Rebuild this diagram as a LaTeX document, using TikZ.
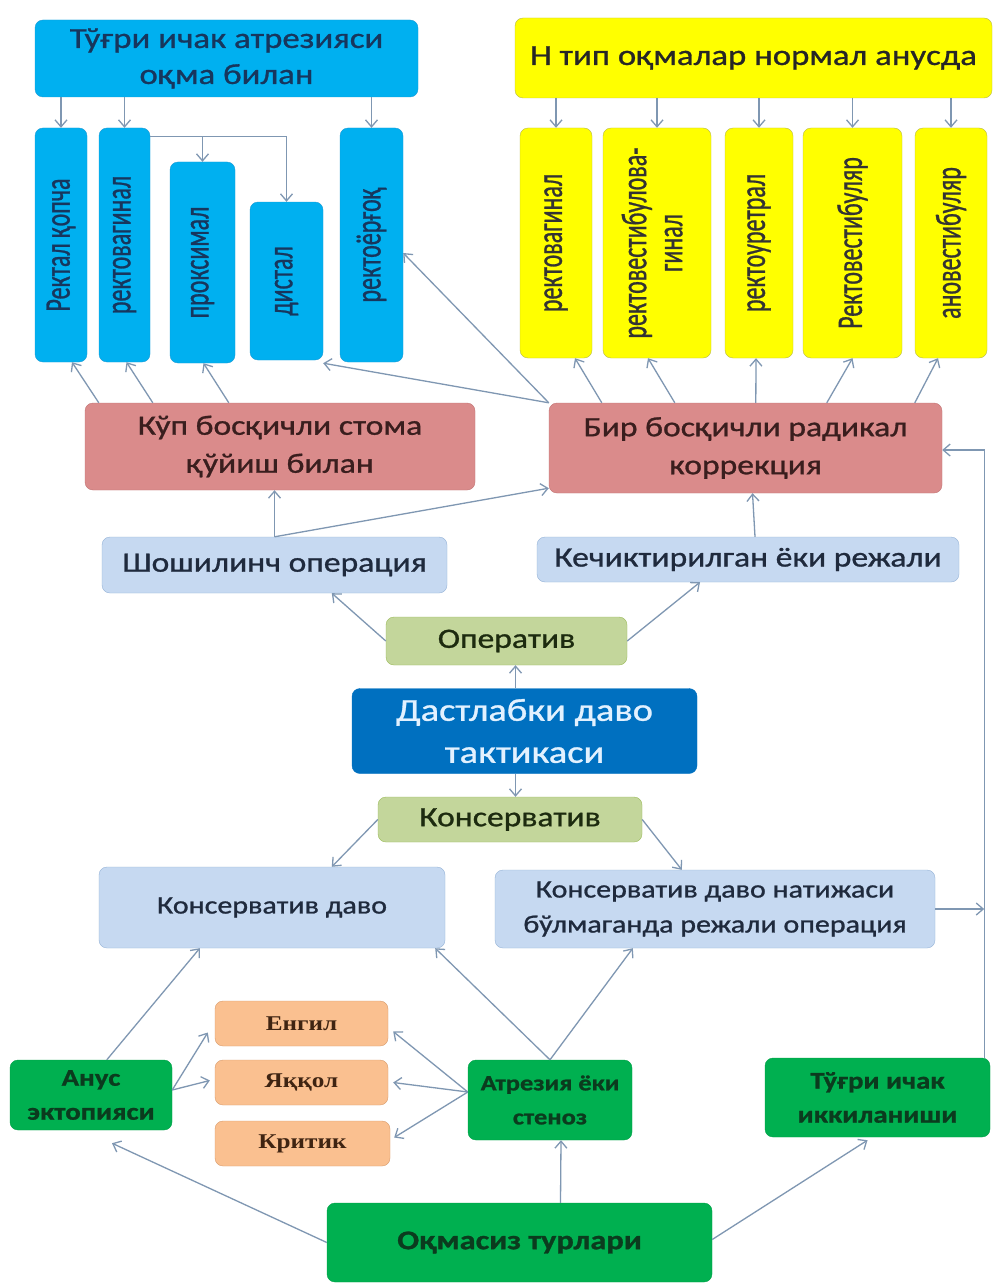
\documentclass[tikz,border=0pt]{standalone}
\usepackage{fontspec}
\usepackage{graphicx}
\setmainfont{Carlito}[FakeStretch=1.2, FakeBold=1.0]
\newfontfamily\rotf{Carlito}[FakeBold=1.0]
\newfontfamily\srff{Liberation Serif}[FakeStretch=1.2]
\usetikzlibrary{arrows.meta, positioning, calc}
\definecolor{skyfill}{HTML}{00B0F0}
\definecolor{skyline}{HTML}{1A9AD6}
\definecolor{navytxt}{HTML}{17365D}
\definecolor{yelfill}{HTML}{FFFF00}
\definecolor{yelline}{HTML}{B8B84A}
\definecolor{rosefill}{HTML}{DA8B8B}
\definecolor{roseline}{HTML}{C27474}
\definecolor{rosetxt}{HTML}{3A1E1E}
\definecolor{lbfill}{HTML}{C6D9F1}
\definecolor{lbline}{HTML}{95B3D7}
\definecolor{lbtxt}{HTML}{1F2A3D}
\definecolor{olfill}{HTML}{C3D69B}
\definecolor{olline}{HTML}{9BBB59}
\definecolor{oltxt}{HTML}{1D2B0F}
\definecolor{dbfill}{HTML}{0070C0}
\definecolor{dbtxt}{HTML}{E2F1FF}
\definecolor{orfill}{HTML}{FAC090}
\definecolor{orline}{HTML}{D89A6A}
\definecolor{ortxt}{HTML}{3F2412}
\definecolor{grfill}{HTML}{00B050}
\definecolor{grline}{HTML}{00A047}
\definecolor{grtxt}{HTML}{0B3B1E}
\definecolor{arrgray}{HTML}{7F97B2}
\newcommand\vtxt[1]{\rotatebox{90}{\scalebox{1}[1.5]{\rotf #1}}}

\begin{document}
\begin{tikzpicture}[
    x=1pt, y=-1pt,
    every node/.style={align=center, inner sep=0pt, rounded corners=8pt},
    skyhead/.style={draw=skyline, fill=skyfill, text=navytxt, font=\fontsize{29}{36}\selectfont},
    skycol/.style={draw=skyline, fill=skyfill, text=navytxt, font=\fontsize{24}{24}\selectfont},
    yelhead/.style={draw=yelline, fill=yelfill, text=black!85, font=\fontsize{29}{35}\selectfont},
    yelcol/.style={draw=yelline, fill=yelfill, text=black!80, font=\fontsize{24}{24}\selectfont},
    rosebox/.style={draw=roseline, fill=rosefill, text=rosetxt, font=\fontsize{28}{38}\selectfont},
    lbbox/.style={draw=lbline, fill=lbfill, text=lbtxt, font=\fontsize{28}{35}\selectfont},
    lbsmall/.style={draw=lbline, fill=lbfill, text=lbtxt, font=\fontsize{25}{35}\selectfont},
    olbox/.style={draw=olline, fill=olfill, text=oltxt, font=\fontsize{28}{30}\selectfont},
    dbbox/.style={draw=dbfill, fill=dbfill, text=dbtxt, font=\fontsize{32}{42}\selectfont},
    orbox/.style={draw=orline, fill=orfill, text=ortxt, font=\srff\bfseries\fontsize{21}{24}\selectfont},
    grbox/.style={draw=grline, fill=grfill, text=grtxt, font=\bfseries\fontsize{24}{34}\selectfont},
    arr/.style={-{Straight Barb[length=7pt,width=12pt]}, line width=1.3pt, draw=arrgray}
]
    \fill[white] (0,0) rectangle (998,1284);
    \useasboundingbox (0,0) rectangle (998,1284);

    \node[skyhead, minimum width=383pt, minimum height=77pt] (tatr) at (226.5,58.5) {Тўғри ичак атрезияси\\оқма билан};
    \node[skycol, minimum width=52pt, minimum height=234pt] (rq)  at (61,245)    {\vtxt{Ректал қопча}};
    \node[skycol, minimum width=51pt, minimum height=234pt] (rvl) at (124.5,245) {\vtxt{ректовагинал}};
    \node[skycol, minimum width=65pt, minimum height=201pt] (prx) at (202.5,262.5) {\vtxt{проксимал}};
    \node[skycol, minimum width=73pt, minimum height=158pt] (dst) at (286.5,281) {\vtxt{дистал}};
    \node[skycol, minimum width=63pt, minimum height=234pt] (ryo) at (371.5,245) {\vtxt{ректоёрғоқ}};

    \node[yelhead, minimum width=477pt, minimum height=80pt] (htip) at (753.5,58) {Н тип оқмалар нормал анусда};
    \node[yelcol, minimum width=72pt, minimum height=230pt]  (yrv)  at (556,243)   {\vtxt{ректовагинал}};
    \node[yelcol, minimum width=108pt, minimum height=230pt] (yrvv) at (657,243)   {\vtxt{\begin{tabular}{@{}c@{}}ректовестибулова-\\гинал\end{tabular}}};
    \node[yelcol, minimum width=68pt, minimum height=230pt]  (yru)  at (759,243)   {\vtxt{ректоуретрал}};
    \node[yelcol, minimum width=99pt, minimum height=230pt]  (yrvb) at (852.5,243) {\vtxt{Ректовестибуляр}};
    \node[yelcol, minimum width=72pt, minimum height=230pt]  (yav)  at (951,243)   {\vtxt{ановестибуляр}};

    \node[rosebox, minimum width=390pt, minimum height=87pt] (kup) at (280,446.5) {Кўп босқичли стома\\қўйиш билан};
    \node[rosebox, minimum width=393pt, minimum height=90pt] (bir) at (745.5,448) {Бир босқичли радикал\\коррекция};
    \node[lbbox, minimum width=345pt, minimum height=56pt] (shosh) at (274.5,565) {Шошилинч операция};
    \node[lbbox, minimum width=422pt, minimum height=45pt] (kech)  at (748,559.5) {Кечиктирилган ёки режали};
    \node[olbox, minimum width=241pt, minimum height=48pt] (oper) at (506.5,641) {Оператив};
    \node[dbbox, minimum width=345pt, minimum height=85pt] (dast) at (524.5,731) {Дастлабки даво\\тактикаси};
    \node[olbox, minimum width=264pt, minimum height=45pt] (kons) at (510,819.5) {Консерватив};
    \node[lbsmall, minimum width=346pt, minimum height=81pt] (kdavo) at (272,907.5) {Консерватив даво};
    \node[lbsmall, minimum width=440pt, minimum height=78pt] (natij) at (715,909) {Консерватив даво натижаси\\бўлмаганда режали операция};

    \node[orbox, minimum width=173pt, minimum height=45pt] (engil)  at (301.5,1023.5) {Енгил};
    \node[orbox, minimum width=173pt, minimum height=45pt] (yaqqol) at (301.5,1082.5) {Яққол};
    \node[orbox, minimum width=175pt, minimum height=45pt] (kritik) at (302.5,1143.5) {Критик};
    \node[grbox, minimum width=162pt, minimum height=70pt] (anus)  at (91,1095)    {Анус\\эктопияси};
    \node[grbox, minimum width=164pt, minimum height=80pt, font=\bfseries\fontsize{22}{34}\selectfont] (atrez) at (550,1100) {Атрезия ёки\\стеноз};
    \node[grbox, minimum width=225pt, minimum height=79pt] (ikki)  at (877.5,1097.5) {Тўғри ичак\\иккиланиши};
    \node[grbox, minimum width=385pt, minimum height=79pt, font=\bfseries\fontsize{27}{30}\selectfont] (oqm) at (519.5,1242.5) {Оқмасиз турлари};

    \foreach \c in {rq,rvl,ryo}
        \draw[arr] (tatr.south -| \c.north) -- (\c.north);
    \coordinate (vtop) at ([yshift=-9pt]rvl.north east);
    \draw[arr] (vtop) -| (dst.north);
    \draw[arr] (vtop -| prx.north) -- (prx.north);
    \foreach \c in {yrv,yrvv,yru,yrvb,yav}
        \draw[arr] (htip.south -| \c.north) -- (\c.north);

    \draw[arr] ([xshift=14pt]kup.north west) -- ([xshift=11pt]rq.south);
    \draw[arr] ([xshift=68pt]kup.north west) -- ([xshift=2pt]rvl.south);
    \draw[arr] ([xshift=144pt]kup.north west) -- ([xshift=1pt]prx.south);
    \draw[arr] (bir.north west) -- ([yshift=-3pt]dst.south east);
    \draw[arr] (bir.north west) -- ([yshift=-8pt]ryo.east);
    \foreach \c/\s/\t in {yrv/53/19, yrvv/126/-9, yru/207/-3, yrvb/278/0, yav/366/-13}
        \draw[arr] ([xshift=\s pt]bir.north west) -- ([xshift=\t pt]\c.south);

    \draw[arr] (shosh.north) -- (shosh.north |- kup.south);
    \draw[arr] (shosh.north) -- ([yshift=5pt]bir.south west);
    \draw[arr] ([xshift=7pt]kech.north) -- ([xshift=7pt]bir.south);
    \draw[arr] (oper.west) -- ([xshift=230pt]shosh.south west);
    \draw[arr] (oper.east) -- ([xshift=-48pt]kech.south);
    \draw[arr] ([xshift=-9pt]dast.north) -- ([xshift=-9pt]dast.north |- oper.south);
    \draw[arr] ([xshift=-9pt]dast.south) -- ([xshift=-9pt]dast.south |- kons.north);
    \draw[arr] (kons.west) -- ([xshift=233pt]kdavo.north west);
    \draw[arr] (kons.east) -- ([xshift=187pt]natij.north west);

    \coordinate (rline) at ([xshift=-6pt]ikki.north east);
    \draw[arr] (rline) |- ([yshift=-2pt]bir.east);
    \draw[arr] (natij.east) -- (natij.east -| rline);

    \draw[arr] ([xshift=97pt]anus.north west) -- ([xshift=101pt]kdavo.south west);
    \draw[arr] ([yshift=5pt]anus.east) -- ([xshift=-7pt,yshift=-9pt]engil.west);
    \draw[arr] ([yshift=5pt]anus.east) -- ([xshift=-5pt,yshift=2pt]yaqqol.west);
    \draw[arr] ([yshift=8pt]atrez.west) -- ([xshift=5pt,yshift=-8pt]engil.east);
    \draw[arr] ([yshift=8pt]atrez.west) -- ([xshift=5pt]yaqqol.east);
    \draw[arr] ([yshift=8pt]atrez.west) -- ([xshift=4pt,yshift=6pt]kritik.east);
    \draw[arr] (atrez.north) -- ([xshift=-10pt]kdavo.south east);
    \draw[arr] (atrez.north) -- ([xshift=138pt]natij.south west);

    \draw[arr] (oqm.west) -- ([xshift=21pt,yshift=-13pt]anus.south);
    \draw[arr] ([xshift=41pt]oqm.north) -- ([xshift=11pt]atrez.south);
    \draw[arr] ([yshift=3pt]oqm.east) -- ([xshift=-10pt,yshift=-3pt]ikki.south);
\end{tikzpicture}
\end{document}
